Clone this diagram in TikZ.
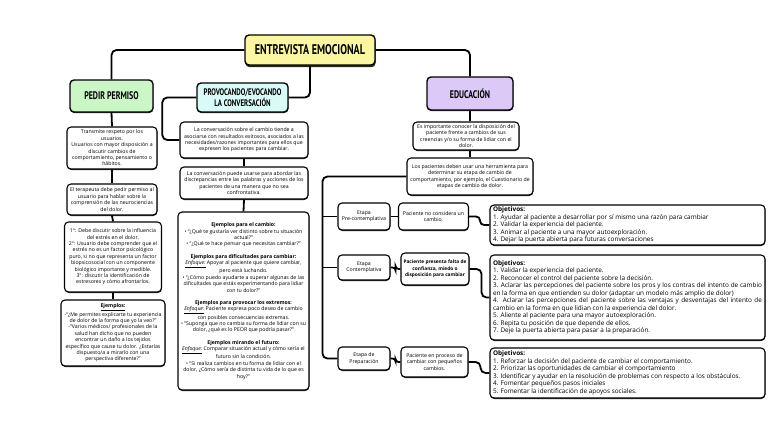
\documentclass[tikz,border=0pt]{standalone}
\usepackage{fontspec}
\setmainfont{Open Sans}
\newfontfamily\headfont[FakeStretch=0.72]{PT Sans}
\usepackage{xcolor}
\usetikzlibrary{positioning}
\usetikzlibrary{calc}
\usetikzlibrary{shadows}
\hyphenpenalty=10000
\exhyphenpenalty=10000
\definecolor{titleyellow}{HTML}{FBF7A1}
\definecolor{permisogreen}{HTML}{CBF6C6}
\definecolor{provocyan}{HTML}{D9FBF8}
\definecolor{edulila}{HTML}{DCC9F7}
\tikzstyle{box}=[draw=black, line width=1.1pt, rounded corners=4pt, fill=white, align=flush center,
  inner xsep=3pt, inner ysep=1pt, font=\fontsize{5.2}{6.4}\selectfont,
  drop shadow={shadow xshift=0.3pt, shadow yshift=-1pt, fill=black!85, opacity=1}]
\tikzstyle{head}=[box, line width=1.4pt, font=\headfont\bfseries\fontsize{11}{12}\selectfont]
\tikzstyle{goal}=[box, align=justify, font=\fontsize{6.4}{7.5}\selectfont]
\tikzstyle{conn}=[line width=1.8pt, rounded corners=5pt]

\begin{document}
\begin{tikzpicture}[x=1pt, y=-1pt]
    \useasboundingbox (0, 0) rectangle (768, 431);

    % titles
    \node at (310, 50) [head, fill=titleyellow, minimum width=130pt, minimum height=30pt,
      font=\headfont\bfseries\fontsize{14}{15}\selectfont,
      drop shadow={shadow xshift=0.5pt, shadow yshift=-2.2pt, fill=black!85, opacity=1}] (title) {ENTREVISTA EMOCIONAL};
    \node at (111.5, 96) [head, fill=permisogreen, minimum width=83pt, minimum height=32pt] (pedir) {PEDIR PERMISO};
    \node at (242.5, 97.5) [head, fill=provocyan, minimum width=91pt, minimum height=29pt,
      font=\headfont\bfseries\fontsize{9.5}{10.5}\selectfont] (provo) {PROVOCANDO/EVOCANDO\\LA CONVERSACIÓN};
    \node at (470, 93.5) [head, fill=edulila, minimum width=86pt, minimum height=33pt] (edu) {EDUCACIÓN};

    % pedir permiso
    \node at (112, 148) [box, text width=84pt, minimum height=42pt] (p1)
      {Transmite respeto por los usuarios.\\ Usuarios con mayor disposición a discutir cambios de comportamiento, pensamiento o hábitos.};
    \node at (112, 199.5) [box, text width=84pt, minimum height=31pt] (p2)
      {El terapeuta debe pedir permiso al usuario para hablar sobre la comprensión de las neurociencias del dolor.};
    \node at (113, 257) [box, text width=91pt, minimum height=70pt] (p3)
      {1°: Debe discutir sobre la influencia del estrés en el dolor.\\
       2°: Usuario debe comprender que el estrés no es un factor psicológico puro, si no que representa un factor biopsicosocial con un componente biológico importante y medible.\\
       3°: discutir la identificación de estresores y cómo afrontarlos.};
    \node at (113, 333) [box, text width=98pt, minimum height=66pt] (p4)
      {\underline{\textbf{Ejemplos:}}\\
       -“¿Me permites explicarte tu experiencia de dolor de la forma que yo la veo?”\\
       -“Varios médicos/ profesionales de la salud han dicho que no pueden encontrar un daño a los tejidos específico que cause tu dolor. ¿Estarías dispuesto/a a mirarlo con una perspectiva diferente?”};

    % provocando / evocando
    \node at (244, 140) [box, text width=122pt, minimum height=36pt] (m1)
      {La conversación sobre el cambio tiende a asociarse con resultados exitosos, asociados a las necesidades/razones importantes para ellos que expresen los pacientes para cambiar.};
    \node at (244, 183) [box, text width=122pt, minimum height=32pt] (m2)
      {La conversación puede usarse para abordar las discrepancias entre las palabras y acciones de los pacientes de una manera que no sea confrontativa.};
    \node at (243.5, 301) [box, text width=125pt, minimum height=178pt] (m3)
      {\textbf{Ejemplos para el cambio:}\\
       • “¿Qué te gustaría ver distinto sobre tu situación actual?”\\
       • “¿Qué te hace pensar que necesitas cambiar?”\\[6pt]
       \textbf{Ejemplos para dificultades para cambiar:}\\
       \underline{\textit{Enfoque:}} Apoyar al paciente que quiere cambiar, pero está luchando.\\
       • “¿Cómo puedo ayudarte a superar algunas de las dificultades que estás experimentando para lidiar con tu dolor?”\\[6pt]
       \textbf{Ejemplos para provocar los extremos:}\\
       \underline{\textit{Enfoque:}} Paciente expresa poco deseo de cambio con posibles consecuencias extremas.\\
       • “Suponga que no cambia su forma de lidiar con su dolor, ¿qué es lo PEOR que podría pasar?”\\[6pt]
       \textbf{Ejemplos mirando el futuro:}\\
       \underline{\textit{Enfoque:}} Comparar situación actual y cómo sería el futuro sin la condición.\\
       • “Si realiza cambios en tu forma de lidiar con el dolor, ¿Cómo sería de distinta tu vida de lo que es hoy?”};

    % educacion
    \node at (466, 136) [box, text width=100pt, minimum height=28pt] (e1)
      {Es importante conocer la disposición del paciente frente a cambios de sus creencias y/o su forma de lidiar con el dolor.};
    \node at (470, 176.5) [box, text width=120pt, minimum height=37pt] (e2)
      {Los pacientes deben usar una herramienta para determinar su etapa de cambio de comportamiento, por ejemplo, el Cuestionario de etapas de cambio de dolor.};

    \node at (364, 216.5) [box, text width=46pt, minimum height=27pt] (s1) {Etapa\\Pre-contemplativa};
    \node at (364, 267.5) [box, text width=46pt, minimum height=25pt] (s2) {Etapa\\Contemplativa};
    \node at (364, 358.5) [box, text width=46pt, minimum height=23pt] (s3) {Etapa de\\Preparación};

    \node at (433.5, 216.5) [box, text width=64pt, minimum height=27pt] (d1) {Paciente no considera un cambio.};
    \node at (435, 269) [box, text width=64pt, inner xsep=2pt, minimum height=32pt, font=\bfseries\fontsize{4.8}{6.4}\selectfont] (d2)
      {Paciente presenta falta de confianza, miedo o disposición para cambiar};
    \node at (434.5, 362) [box, text width=61pt, minimum height=30pt] (d3) {Paciente en proceso de cambiar con pequeños cambios.};

    \node at (627.5, 225) [goal, text width=269pt, minimum height=40pt] (o1)
      {\textbf{Objetivos:}\\
       1. Ayudar al paciente a desarrollar por sí mismo una razón para cambiar\\
       2. Validar la experiencia del paciente.\\
       3. Animar al paciente a una mayor autoexploración.\\
       4. Dejar la puerta abierta para futuras conversaciones};
    \node at (627.5, 297.5) [goal, text width=269pt, minimum height=85pt] (o2)
      {\textbf{Objetivos:}\\
       1. Validar la experiencia del paciente.\\
       2. Reconocer el control del paciente sobre la decisión.\\
       3. Aclarar las percepciones del paciente sobre los pros y los contras del intento de cambio en la forma en que entienden su dolor (adaptar un modelo más amplio de dolor)\\
       4. Aclarar las percepciones del paciente sobre las ventajas y desventajas del intento de cambio en la forma en que lidian con la experiencia del dolor.\\
       5. Aliente al paciente para una mayor autoexploración.\\
       6. Repita tu posición de que depende de ellos.\\
       7. Deje la puerta abierta para pasar a la preparación.};
    \node at (627.5, 373) [goal, text width=269pt, minimum height=50pt] (o3)
      {\textbf{Objetivos:}\\
       1. Reforzar la decisión del paciente de cambiar el comportamiento.\\
       2. Priorizar las oportunidades de cambiar el comportamiento\\
       3. Identificar y ayudar en la resolución de problemas con respecto a los obstáculos.\\
       4. Fomentar pequeños pasos iniciales\\
       5. Fomentar la identificación de apoyos sociales.};

    % connectors
    \draw [conn] (title.west) -| (pedir.north);
    \draw [conn] (title.east) -| (edu.north);
    \draw [conn] (title.south) |- (provo.east);
    \draw [conn] (provo.west) -- ++(-34, 0) |- (m1.west);

    \draw [conn] (pedir.south) -- (p1.north);
    \draw [conn] (p1.south) -- (p2.north);
    \draw [conn] (p2.south) -- (p3.north);
    \draw [conn] (p3.south) -- (p4.north);

    \draw [conn] (m1.south) -- (m2.north);
    \draw [conn] (m2.south) -- (m3.north);

    \draw [conn] (edu.south) -- (edu.south |- e1.north);
    \draw [conn] (e1.south -| edu.south) -- (edu.south |- e2.north);

    \draw [conn] (e2.west) -| ($(s3.west)+(-15, 0)$) -- (s3.west);
    \draw [conn] ($(s1.west)+(-15, 0)$) -- (s1.west);
    \draw [conn] ($(s2.west)+(-15, 0)$) -- (s2.west);

    \draw [conn] (s1.east) -- (d1.west);
    \draw [conn, rounded corners=3pt] (s2.east) -- ++(5, 0) |- (d2.west);
    \draw [conn, rounded corners=3pt] (s3.east) -- ++(5, 0) |- (d3.west);

    \draw [conn, rounded corners=4pt] (d1.east) -- ++(11, 0) |- (o1.west);
    \draw [conn] (d2.east) -- ++(12, 0) |- (o2.west);
    \draw [conn] (d3.east) -- ++(12, 0) |- (o3.west);
\end{tikzpicture}
\end{document}
